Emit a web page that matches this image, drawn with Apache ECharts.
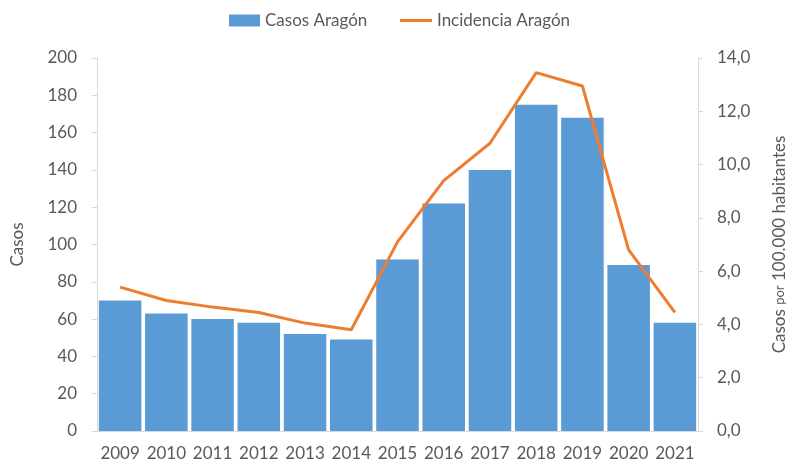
<!DOCTYPE html>
<html>
<head>
<meta charset="utf-8">
<script src="https://cdn.jsdelivr.net/npm/echarts@6/dist/echarts.min.js"></script>
<style>
  html, body { margin: 0; padding: 0; background: #fff; }
  #main { width: 790px; height: 463px; }
</style>
</head>
<body>
<div id="main"></div>
<script>
var years = ["2009", "2010", "2011", "2012", "2013", "2014", "2015", "2016", "2017", "2018", "2019", "2020", "2021"];
var casos = [70, 63, 60, 58, 52, 49, 92, 122, 140, 175, 168, 89, 58];
var incidencia = [5.4, 4.9, 4.65, 4.45, 4.05, 3.8, 7.1, 9.4, 10.8, 13.45, 12.95, 6.8, 4.45];

var font = "Lato, 'Open Sans', sans-serif";
var txt = "#595959";

var chart = echarts.init(document.getElementById("main"));
chart.setOption({
  animation: false,
  textStyle: { fontFamily: font },
  // two legends so the bar swatch and the line swatch can have different heights
  legend: [
    {
      top: 12,
      left: 229,
      padding: 0,
      itemWidth: 31,
      itemHeight: 12,
      icon: "rect",
      textStyle: { fontSize: 17, color: txt, fontFamily: font },
      data: ["Casos Aragón"]
    },
    {
      top: 12,
      left: 400,
      padding: 0,
      itemWidth: 32,
      itemHeight: 3,
      icon: "rect",
      textStyle: { fontSize: 17, color: txt, fontFamily: font },
      data: ["Incidencia Aragón"]
    }
  ],
  grid: { left: 97, right: 92, top: 58, bottom: 32, outerBoundsMode: "none", containLabel: false },
  xAxis: {
    type: "category",
    data: years,
    axisLine: { lineStyle: { color: "#d9d9d9" } },
    axisTick: { show: false },
    axisLabel: { color: txt, fontSize: 17, margin: 14, interval: 0, fontFamily: font }
  },
  yAxis: [
    {
      type: "value",
      min: 0, max: 200, interval: 20,
      name: "Casos",
      nameLocation: "middle",
      nameGap: 71,
      nameTextStyle: { color: txt, fontSize: 17, fontFamily: font },
      axisLine: { show: true, lineStyle: { color: "#d9d9d9" } },
      axisTick: { show: true, length: 5, lineStyle: { color: "#d9d9d9" } },
      axisLabel: { color: txt, fontSize: 17, margin: 20, fontFamily: font },
      splitLine: { show: false }
    },
    {
      type: "value",
      min: 0, max: 14, interval: 2,
      name: "{a|Casos }{b|por}{a| 100.000 habitantes}",
      nameLocation: "middle",
      nameGap: 73,
      nameRotate: 90,
      nameTextStyle: {
        rich: {
          a: { color: txt, fontSize: 17, fontFamily: font },
          b: { color: txt, fontSize: 13, fontFamily: font }
        }
      },
      axisLine: { show: true, lineStyle: { color: "#d9d9d9" } },
      axisTick: { show: true, length: 5, lineStyle: { color: "#d9d9d9" } },
      axisLabel: {
        color: txt, fontSize: 17, margin: 19, fontFamily: font,
        formatter: function (v) { return v.toFixed(1).replace(".", ","); }
      },
      splitLine: { show: false }
    }
  ],
  series: [
    {
      name: "Casos Aragón",
      type: "bar",
      data: casos,
      barCategoryGap: "8%",
      itemStyle: { color: "#5B9BD5" }
    },
    {
      name: "Incidencia Aragón",
      type: "line",
      yAxisIndex: 1,
      data: incidencia,
      symbol: "none",
      lineStyle: { color: "#ED7D31", width: 3 },
      itemStyle: { color: "#ED7D31" }
    }
  ]
});
</script>
</body>
</html>
